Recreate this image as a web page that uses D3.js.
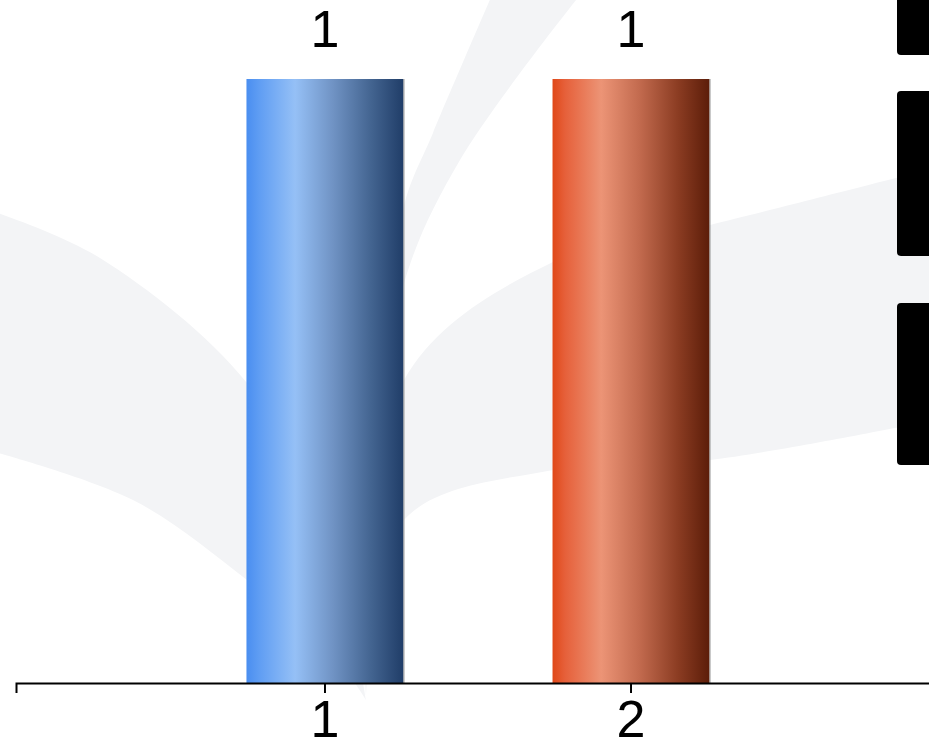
<!DOCTYPE html>
<html><head><meta charset="utf-8">
<script src="https://cdn.jsdelivr.net/npm/d3@7"></script>
<style>html,body{margin:0;padding:0;background:#fff;overflow:hidden}</style>
</head><body>
<svg id="c" width="929" height="741" xmlns="http://www.w3.org/2000/svg"></svg>
<script>
// ---- data ----
const categories = ["1", "2"];
const values = [1, 1];
const valueLabels = ["1", "1"];
const yDomain = [0, 1];
const legendKeys = ["a", "b", "c"];
const gradientStops = [
  [["0", "#4a8ef0"], ["0.08", "#5f9df3"], ["0.31", "#95c0f6"], ["0.55", "#7093c4"], ["0.8", "#42638f"], ["1", "#203d68"]],
  [["0", "#e04818"], ["0.08", "#e6603a"], ["0.31", "#ec9476"], ["0.55", "#c36b4f"], ["0.8", "#8b3c22"], ["1", "#5c1d09"]]
];

const W = 929, H = 741;
const svg = d3.select("#c");
const font = "'Liberation Sans', Arial, sans-serif";

// ---- watermark ----
const wm = svg.append("g").attr("fill", "#f3f4f6");
const line = d3.line().curve(d3.curveCatmullRom.alpha(0.5));
function leaf(upper, lower) {
  return line(upper) + "L" + line(lower.slice().reverse()).slice(1) + "Z";
}
// left blade
wm.append("path").attr("d", leaf(
  [[-5, 212], [100, 258], [247, 383], [330, 540], [366, 700]],
  [[-5, 452], [133, 500], [247, 580], [330, 650], [366, 700]]
));
// center blade
wm.append("path").attr("d", leaf(
  [[492, -5], [433, 133], [404, 205], [370, 420], [366, 700]],
  [[580, -5], [460, 160], [404, 283], [375, 470], [366, 700]]
));
// right blade
wm.append("path").attr("d", leaf(
  [[366, 700], [404, 380], [553, 262], [710, 225], [935, 168]],
  [[366, 700], [404, 520], [553, 470], [710, 460], [935, 420]]
));

// ---- scales ----
const x = d3.scaleBand().domain(categories).range([16, 940]).paddingInner(0.487).paddingOuter(0.753);
const y = d3.scaleLinear().domain(yDomain).range([683, 79]);

// ---- gradients ----
const defs = svg.append("defs");
gradientStops.forEach((stops, i) => {
  const g = defs.append("linearGradient").attr("id", "g" + i)
    .attr("x1", "0%").attr("x2", "100%").attr("y1", "0%").attr("y2", "0%");
  stops.forEach(s => g.append("stop").attr("offset", s[0]).attr("stop-color", s[1]));
});

// ---- bars ----
const data = categories.map((c, i) => ({c, v: values[i], label: valueLabels[i], i}));
svg.append("g").selectAll("rect.bar").data(data).join("rect")
  .attr("class", "bar")
  .attr("x", d => x(d.c)).attr("width", x.bandwidth())
  .attr("y", d => y(d.v)).attr("height", d => y(0) - y(d.v))
  .attr("fill", d => `url(#g${d.i})`);
// thin shadow on the right side of each bar
svg.append("g").selectAll("line").data(data).join("line")
  .attr("x1", d => x(d.c) + x.bandwidth() + 0.5).attr("x2", d => x(d.c) + x.bandwidth() + 0.5)
  .attr("y1", d => y(d.v)).attr("y2", y(0))
  .attr("stroke", "#9a9a9a").attr("stroke-width", 1);

// ---- value labels ----
svg.append("g").selectAll("text").data(data).join("text")
  .attr("x", d => x(d.c) + x.bandwidth() / 2)
  .attr("y", d => y(d.v) - 32)
  .attr("text-anchor", "middle")
  .attr("font-family", font).attr("font-size", 52).attr("fill", "#000")
  .text(d => d.label);

// ---- x axis ----
const ax = svg.append("g").attr("transform", `translate(0,${y(0)})`)
  .call(d3.axisBottom(x).tickSizeInner(10).tickSizeOuter(10).tickPadding(7));
ax.select(".domain").attr("stroke", "#000").attr("stroke-width", 2);
ax.selectAll(".tick line").attr("stroke", "#000").attr("stroke-width", 2);
ax.selectAll(".tick text").attr("font-family", font).attr("font-size", 52).attr("fill", "#000");

// ---- legend boxes (cut off at right edge) ----
const legendY = d3.scalePoint().domain(legendKeys).range([-121, 303]);
const legendH = [176, 165, 162];
svg.append("g").selectAll("rect").data(legendKeys).join("rect")
  .attr("x", 897).attr("y", d => legendY(d))
  .attr("width", 80).attr("height", (d, i) => legendH[i])
  .attr("rx", 4).attr("fill", "#000");
</script>
</body></html>
